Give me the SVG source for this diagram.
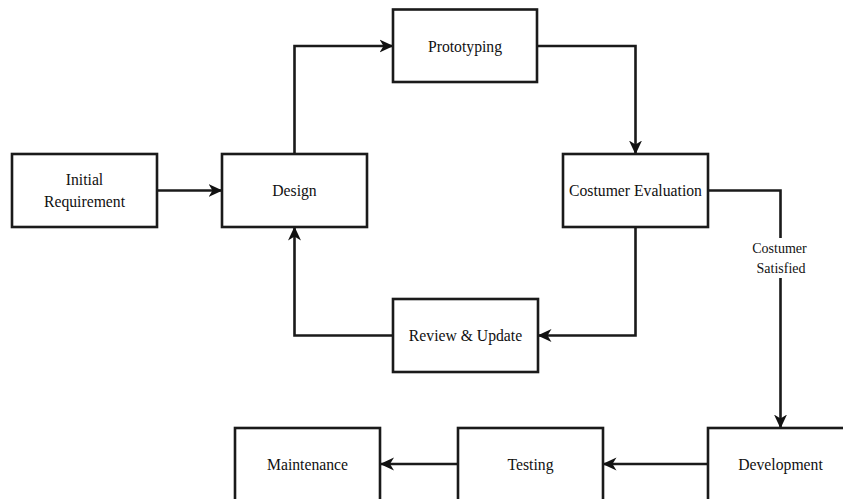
<svg xmlns="http://www.w3.org/2000/svg" width="843" height="499" viewBox="0 0 843 499">
<style>
.box{fill:#fff;stroke:#1a1a1a;stroke-width:2.6}
.t{font-family:"Liberation Serif","Times New Roman",serif;font-size:15.7px;fill:#111;text-anchor:middle;dominant-baseline:central}
.lbl{font-family:"Liberation Serif","Times New Roman",serif;font-size:14px;fill:#111;text-anchor:middle;dominant-baseline:central}
.e{fill:none;stroke:#1a1a1a;stroke-width:2.6;marker-end:url(#ah)}
</style>
<defs>
<marker id="ah" viewBox="0 0 14 14" refX="13.5" refY="7" markerWidth="14" markerHeight="14" markerUnits="userSpaceOnUse" orient="auto">
<path d="M0,0.5 L14,7 L0,13.5 L4,7 Z" fill="#111"/>
</marker>
</defs>
<rect width="843" height="499" fill="#fff"/>
<g id="connectors">
<path class="e" d="M157,190.5 H222"/>
<path class="e" d="M294.5,154 V46 H393"/>
<path class="e" d="M537,46 H635.5 V154"/>
<path class="e" d="M635.5,227 V335.5 H538"/>
<path class="e" d="M393,335.5 H294.5 V227"/>
<path class="e" d="M708,190.5 H780.5 V428"/>
<path class="e" d="M708,464 H603"/>
<path class="e" d="M458,464 H380.5"/>
<g id="edge-label">
<rect x="752" y="238" width="57" height="40" fill="#fff"/>
<text class="lbl" x="779.5" y="248">Costumer</text>
<text class="lbl" x="781" y="268">Satisfied</text>
</g>
</g>
<g id="initial">
<rect class="box" x="12" y="154" width="145" height="73"/>
<text class="t" x="84.5" y="179.5">Initial</text>
<text class="t" x="84.5" y="201.5">Requirement</text>
</g>
<g id="design">
<rect class="box" x="222" y="154" width="145" height="73"/>
<text class="t" x="294.5" y="190.5">Design</text>
</g>
<g id="prototyping">
<rect class="box" x="393" y="9.5" width="144" height="72.5"/>
<text class="t" x="465" y="46">Prototyping</text>
</g>
<g id="evaluation">
<rect class="box" x="563" y="154" width="145" height="73"/>
<text class="t" x="635.5" y="190.5">Costumer Evaluation</text>
</g>
<g id="review">
<rect class="box" x="393" y="299" width="145" height="73"/>
<text class="t" x="465.5" y="335.5">Review &amp; Update</text>
</g>
<g id="development">
<rect class="box" x="708" y="428" width="145" height="73"/>
<text class="t" x="780.5" y="464">Development</text>
</g>
<g id="testing">
<rect class="box" x="458" y="428" width="145" height="73"/>
<text class="t" x="530.5" y="464">Testing</text>
</g>
<g id="maintenance">
<rect class="box" x="235" y="428" width="145" height="73"/>
<text class="t" x="307.5" y="464">Maintenance</text>
</g>
</svg>
